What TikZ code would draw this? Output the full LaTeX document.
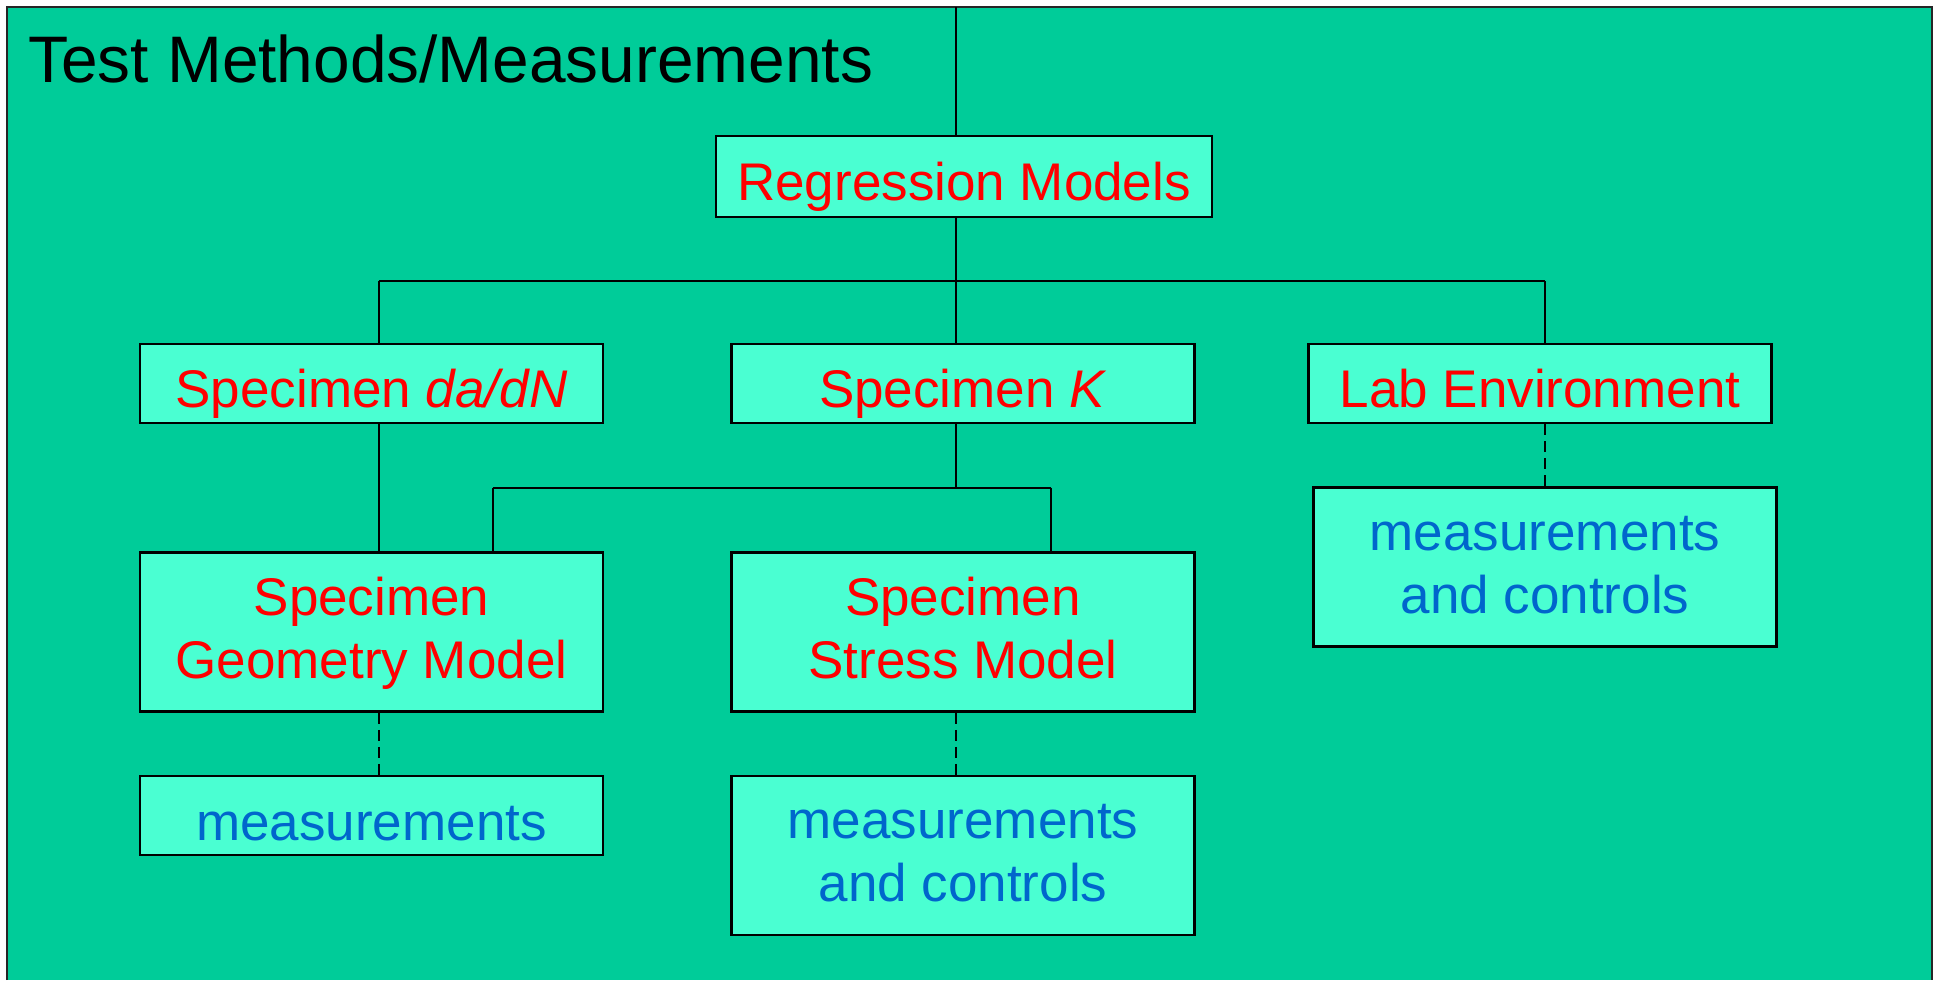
\documentclass[tikz,border=0pt]{standalone}
\usepackage{fontspec}
\setmainfont{Liberation Sans}
\definecolor{panelgreen}{HTML}{00CC99}
\definecolor{boxaqua}{HTML}{4AFFD2}
\definecolor{modelred}{HTML}{FF0000}
\definecolor{measblue}{HTML}{0066CC}
% line struts: fixed height/depth so text sits alike in every box
\newcommand{\ls}{\rule[-6pt]{0pt}{27pt}}     % lines of two-line boxes
\newcommand{\os}{\rule[-6pt]{0pt}{36.4pt}}   % one-line boxes
\begin{document}
\begin{tikzpicture}[x=0.5pt,y=-0.5pt,
  box/.style={draw=black,line width=1.25pt,fill=boxaqua,inner sep=0pt,
    align=center,font=\fontsize{26.5}{31.5}\selectfont},
  model/.style={box,text=modelred},
  meas/.style={box,text=measblue},
  wide/.style={minimum width=248pt,minimum height=40.5pt},
  cell/.style={minimum width=231.5pt,minimum height=39.5pt},
  tall/.style={minimum width=231.5pt,minimum height=79.5pt},
  link/.style={line width=0.9pt,draw=black},
  soft/.style={link,dash pattern=on 5.5pt off 3pt}]

% page and panel
\useasboundingbox (0,0) rectangle (1941,980);
\fill[white] (0,0) rectangle (1941,980);
\fill[panelgreen] (7,7) rectangle (1932,980);
\draw[line width=1pt,draw=black!85] (7,980) -- (7,7) -- (1932,7) -- (1932,980);

\node[anchor=base west,font=\fontsize{32.9}{38}\selectfont,inner sep=0pt]
  (title) at (28,82) {Test Methods/Measurements};

% boxes
\node[model,wide] (reg)  at (964,176.5) {\os Regression Models};
\node[model,cell] (dadn) at (371.5,383.5) {\os Specimen \textit{da/dN}};
\node[model,cell] (spk)  at (963,383.5) {\os Specimen \textit{K}};
\node[model,cell] (lab)  at (1540,383.5) {\os Lab Environment};
\node[model,tall] (geo)  at (371.5,632) {\ls Specimen\\\ls Geometry Model};
\node[model,tall] (str)  at (963,632) {\ls Specimen\\\ls Stress Model};
\node[meas,tall]  (labm) at (1545,567) {\ls measurements\\\ls and controls};
\node[meas,cell]  (m1)   at (371.5,815.7) {\os measurements};
\node[meas,tall]  (m2)   at (963,855.3) {\ls measurements\\\ls and controls};

% junction points
\coordinate (top)  at (956,7);
\coordinate (busL) at (379,281);
\coordinate (busM) at (956,281);
\coordinate (busR) at (1545,281);
\coordinate (kbL)  at (492.7,487.7);
\coordinate (kbM)  at (956,487.7);
\coordinate (kbR)  at (1051,487.7);

% tree connectors
\draw[link] (top) -- (top |- reg.north);
\draw[link] (reg.south -| busM) -- (busM);
\draw[link] (busL) -- (busR);
\draw[link] (busL) -- (busL |- dadn.north);
\draw[link] (busM) -- (busM |- spk.north);
\draw[link] (busR) -- (busR |- lab.north);
\draw[link] (dadn.south -| busL) -- (geo.north -| busL);
\draw[link] (spk.south -| kbM) -- (kbM);
\draw[link] (kbL) -- (kbR);
\draw[link] (kbL) -- (kbL |- geo.north);
\draw[link] (kbR) -- (kbR |- str.north);

% measurement links
\draw[soft] (lab.south -| labm.north) -- (labm.north);
\draw[soft] (geo.south -| busL) -- (m1.north -| busL);
\draw[soft] (str.south -| busM) -- (m2.north -| busM);
\end{tikzpicture}
\end{document}
